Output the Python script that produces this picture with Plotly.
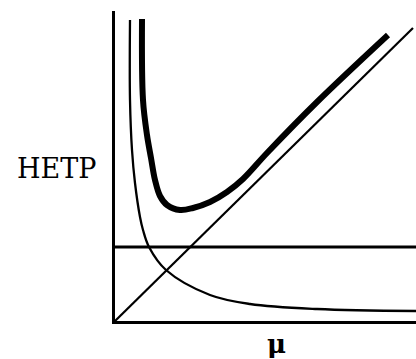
import plotly.graph_objects as go

# Values (arbitrary units: mu along x, HETP along y)
mu_b = [15, 15, 17, 20, 25, 28, 34, 51, 95, 135, 202, 301]
hetp_b = [301, 221, 171, 138, 104, 91, 74, 51, 26, 17, 12, 10]

mu_sum = [27, 28, 32, 36, 40, 45, 52, 65, 78, 95, 112, 128, 152, 202, 273]
hetp_sum = [302, 221, 186, 163, 141, 125, 116, 111, 113, 119, 129, 142, 168, 219, 286]

mu_c = [0, 298]
hetp_c = [0, 293]

mu_a = [0, 301]
hetp_a = [74, 74]

x_label = "μ"
y_label = "HETP"

fig = go.Figure()
fig.add_trace(go.Scatter(x=mu_a, y=hetp_a, mode="lines",
                         line=dict(color="black", width=2.8), hoverinfo="skip"))
fig.add_trace(go.Scatter(x=mu_c, y=hetp_c, mode="lines",
                         line=dict(color="black", width=2.2), hoverinfo="skip"))
fig.add_trace(go.Scatter(x=mu_b, y=hetp_b, mode="lines", line_shape="spline",
                         line=dict(color="black", width=2.3), hoverinfo="skip"))
fig.add_trace(go.Scatter(x=mu_sum, y=hetp_sum, mode="lines", line_shape="spline",
                         line=dict(color="black", width=6), hoverinfo="skip"))

fig.add_annotation(x=-0.196, y=0.4935, xref="paper", yref="paper", text=y_label,
                   showarrow=False, xanchor="center", yanchor="middle",
                   font=dict(family="DejaVu Serif", size=27, color="black"))
fig.add_annotation(x=0.538, y=-0.074, xref="paper", yref="paper",
                   text="<b>" + x_label + "</b>",
                   showarrow=False, xanchor="center", yanchor="middle",
                   font=dict(family="DejaVu Serif", size=26, color="black"))

fig.update_layout(
    width=416, height=359,
    margin=dict(l=115, r=0, t=11, b=38),
    paper_bgcolor="white", plot_bgcolor="white",
    showlegend=False,
    xaxis=dict(range=[0, 301], showline=True, linecolor="black", linewidth=3,
               showgrid=False, zeroline=False, showticklabels=False, ticks=""),
    yaxis=dict(range=[0, 310], showline=True, linecolor="black", linewidth=3,
               showgrid=False, zeroline=False, showticklabels=False, ticks=""),
)

fig.write_html("out.html")
